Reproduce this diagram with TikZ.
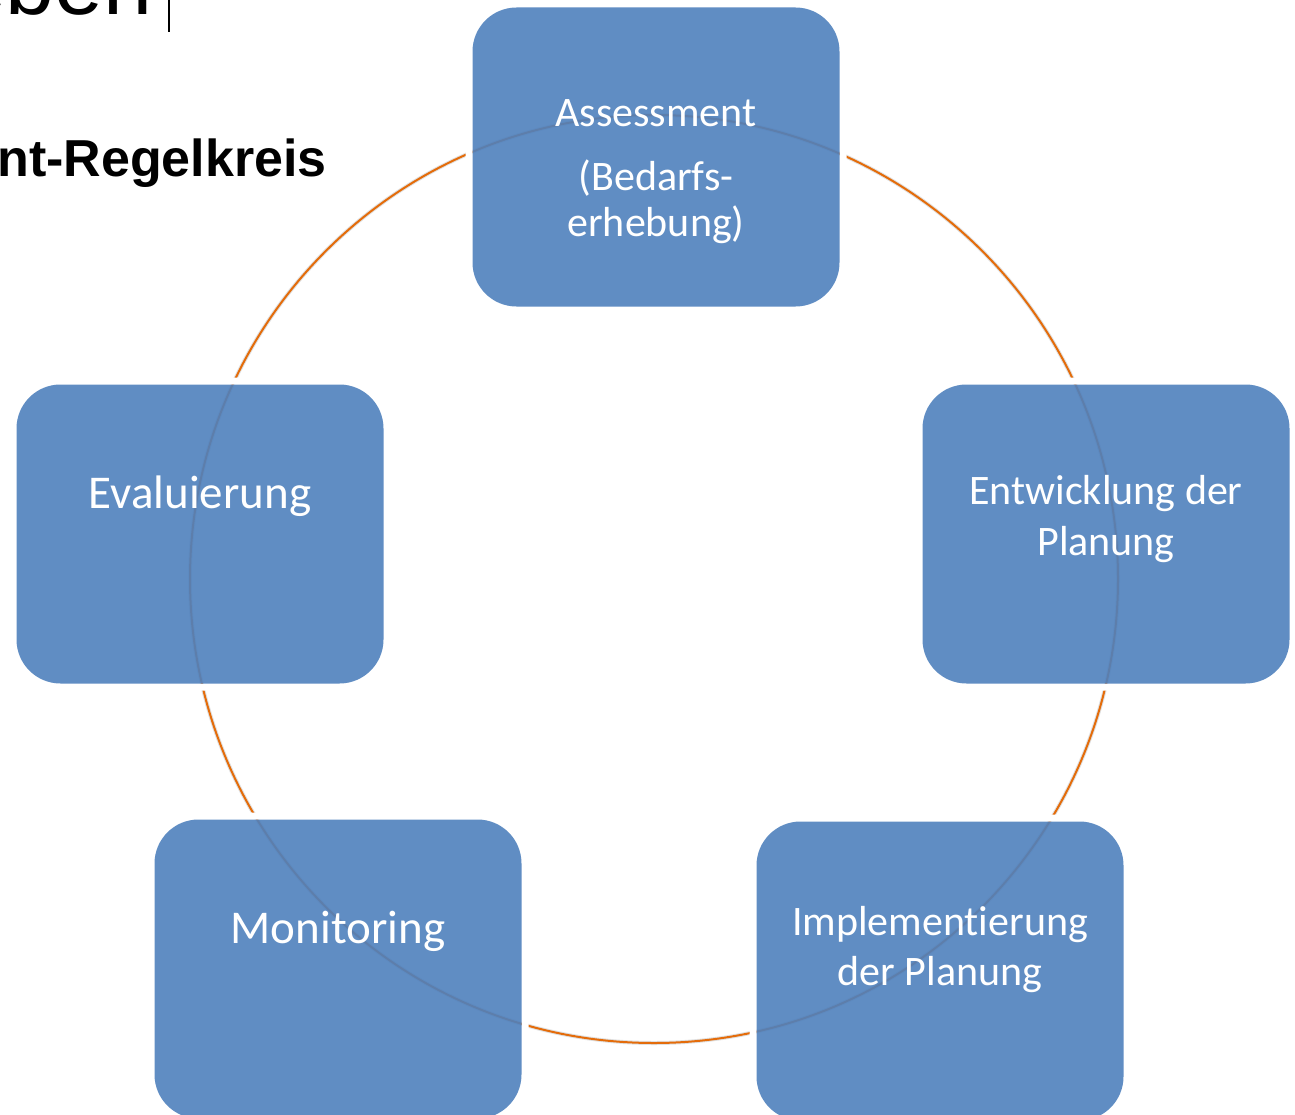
\documentclass[tikz,border=0pt]{standalone}
\usepackage{fontspec}
\setmainfont{Carlito}[Ligatures=NoCommon]
\newfontfamily\arialfont{Liberation Sans}
\definecolor{boxblue}{HTML}{4F81BD}
\definecolor{ringorange}{HTML}{E46C0A}
\tikzset{
  phase/.style={rounded corners=44pt, minimum width=367pt, minimum height=299pt, inner sep=0pt, fill=boxblue, fill opacity=0.9},
  halo/.style={rounded corners=47.5pt, minimum width=374pt, minimum height=306pt, inner sep=0pt, draw=white, line width=7pt},
  phasetext/.style={text=white, align=center, anchor=base, inner sep=0pt}
}
\begin{document}
\begin{tikzpicture}[x=1pt,y=-1pt]
    \useasboundingbox (0,0) rectangle (1295,1115);
    \clip (0,0) rectangle (1295,1115);
    % heading, cut by the frame
    \node[anchor=base east, inner sep=0pt, font=\arialfont\fontsize{88}{100}\selectfont] (head) at (153,15) {eben};
    \coordinate (bartop) at (169,0);
    \coordinate (barbot) at (169,32);
    \draw[line width=2pt] (bartop) -- (barbot);
    \node[anchor=base east, inner sep=0pt, font=\arialfont\bfseries\fontsize{52}{60}\selectfont] (title) at (327,177) {nt-Regelkreis};
    % ring
    \coordinate (m) at (654,579);
    \draw[black!12, line width=4pt, yshift=-3pt] (m) circle (464pt);
    \draw[ringorange, line width=2pt] (m) circle (464pt);
    % gaps round the boxes
    \node[halo] (assesshalo) at (656,157) {};
    \node[halo] (planhalo) at (1106,534) {};
    \node[halo] (implhalo) at (940,971) {};
    \node[halo] (monhalo) at (338,969) {};
    \node[halo] (evalhalo) at (200,534) {};
    % boxes
    \node[phase] (assess) at (656,157) {};
    \node[phase] (plan) at (1106,534) {};
    \node[phase] (impl) at (940,971) {};
    \node[phase] (mon) at (338,969) {};
    \node[phase] (eval) at (200,534) {};
    % texts (base = last line)
    \node[phasetext, font=\fontsize{42}{47}\selectfont] (assesstext) at (656,237) {Assessment\\[16pt](Bedarfs-\\erhebung)};
    \node[phasetext, font=\fontsize{42}{51}\selectfont] (plantext) at (1106,555) {Entwicklung der\\Planung};
    \node[phasetext, font=\fontsize{42}{50}\selectfont] (impltext) at (940,985) {Implementierung\\der Planung};
    \node[phasetext, font=\fontsize{47}{56}\selectfont] (montext) at (338,943) {Monitoring};
    \node[phasetext, font=\fontsize{47}{56}\selectfont] (evaltext) at (200,508) {Evaluierung};
\end{tikzpicture}
\end{document}
